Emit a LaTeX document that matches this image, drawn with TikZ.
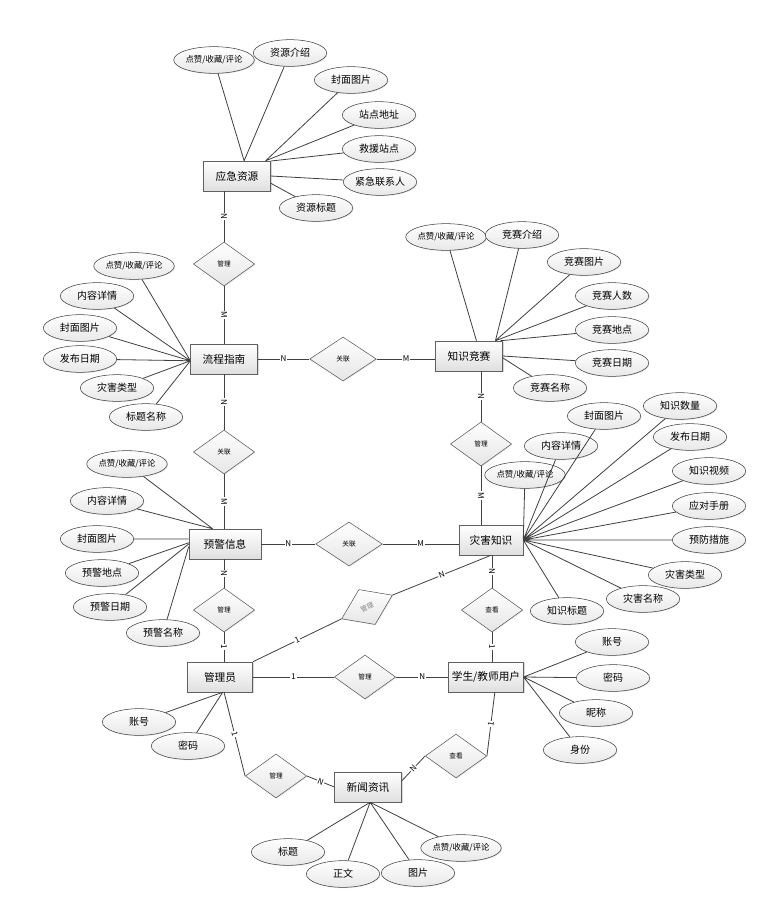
\documentclass[tikz,border=0pt]{standalone}
\usepackage{fontspec}
\newfontfamily\cjk{Noto Sans CJK SC}
\usetikzlibrary{shapes.geometric,shadows}

\tikzset{
  entity/.style={draw=gray!75!black, top color=white, bottom color=gray!25,
    minimum width=50pt, minimum height=22.5pt, inner sep=1pt,
    font=\cjk\fontsize{8}{9}\selectfont,
    drop shadow={shadow xshift=1pt, shadow yshift=-1pt, opacity=0.3}},
  attrib/.style={ellipse, draw=black!75, top color=white, bottom color=gray!18,
    minimum width=55pt, minimum height=20pt, inner sep=0pt,
    font=\cjk\fontsize{7.5}{9}\selectfont,
    drop shadow={shadow xshift=0.6pt, shadow yshift=-0.6pt, opacity=0.2}},
  small/.style={font=\cjk\fontsize{6.3}{7}\selectfont},
  relation/.style={diamond, draw=black!65, top color=white, bottom color=gray!20,
    minimum width=46pt, minimum height=33pt, inner sep=0pt,
    font=\cjk\fontsize{5}{5}\selectfont,
    drop shadow={shadow xshift=0.6pt, shadow yshift=-0.6pt, opacity=0.2}},
  card/.style={fill=white, inner sep=0.6pt, sloped, font=\cjk\fontsize{6}{6}\selectfont},
  link/.style={draw=black!75, line width=0.6pt}
}

\begin{document}
\begin{tikzpicture}[x=0.75pt, y=-0.75pt]
    \path[use as bounding box, fill=white] (0,0) rectangle (763,901);

    % entities
    \node[entity] (yingji) at (237,176) {应急资源};
    \node[entity] (liucheng) at (224,359) {流程指南};
    \node[entity] (jingsai) at (469,356) {知识竞赛};
    \node[entity, minimum width=54pt] (yujing) at (225,544) {预警信息};
    \node[entity, minimum width=48pt] (zaihai) at (491,540) {灾害知识};
    \node[entity, minimum width=49pt] (admin) at (220,677) {管理员};
    \node[entity, minimum width=56pt] (user) at (486,677) {学生/教师用户};
    \node[entity] (news) at (368,787) {新闻资讯};

    % relations
    \node[relation] (r1) at (224,264) {管理};
    \node[relation, minimum width=50pt] (r2) at (343,359) {关联};
    \node[relation] (r3) at (224,452) {关联};
    \node[relation] (r4) at (481,444) {管理};
    \node[relation, minimum width=50pt] (r5) at (349,544) {关联};
    \node[relation] (r6) at (224,610) {管理};
    \node[relation, rotate=25, minimum width=42pt, minimum height=29pt, text=gray] (r7) at (367,607) {管理};
    \node[relation] (r8) at (365,677) {管理};
    \node[relation] (r9) at (492,610) {查看};
    \node[relation] (r10) at (276,776) {管理};
    \node[relation] (r11) at (456,756) {查看};

    % links between entities
    \draw[link] (yingji.south -| r1) -- node[card] {N} (r1.north);
    \draw[link] (r1.south) -- node[card] {M} (liucheng.north);

    \draw[link] (liucheng.east) -- node[card] {N} (r2.west);
    \draw[link] (r2.east) -- node[card] {M} (r2.east -| jingsai.west);

    \draw[link] (liucheng.south) -- node[card] {N} (r3.north);
    \draw[link] (r3.south) -- node[card] {M} (r3.south |- yujing.north);

    \draw[link] (jingsai.south -| r4) -- node[card] {N} (r4.north);
    \draw[link] (r4.south) -- node[card] {M} (r4.south |- zaihai.north);

    \draw[link] (yujing.east) -- node[card] {N} (r5.west);
    \draw[link] (r5.east) -- node[card] {M} (r5.east -| zaihai.west);

    \draw[link] (yujing.south -| r6) -- node[card] {N} (r6.north);
    \draw[link] (r6.south) -- node[card] {1} (r6.south |- admin.north);

    \draw[link] (admin.north east) -- node[card] {1} (r7.west);
    \draw[link] (r7.east) -- node[card] {N} (zaihai.south);

    \draw[link] (admin.east) -- node[card] {1} (r8.west);
    \draw[link] (r8.east) -- node[card] {N} (user.west);

    \draw[link] (zaihai.south -| r9) -- node[card] {N} (r9.north);
    \draw[link] (r9.south) -- node[card] {1} (r9.south |- user.north);

    \draw[link] (admin.-75) -- node[card] {1} (r10.west);
    \draw[link] (r10.east) -- node[card] {N} (news.west);

    \draw[link] (user.-60) -- node[card] {1} (r11.east);
    \draw[link] (r11.west) -- node[card] {N} (news.10);

    % attributes of 应急资源
    \node[attrib, small] (yj1) at (214,60) {点赞/收藏/评论};
    \node[attrib] (yj2) at (290,53) {资源介绍};
    \node[attrib] (yj3) at (351,80) {封面图片};
    \node[attrib] (yj4) at (379,115) {站点地址};
    \node[attrib] (yj5) at (379,149) {救援站点};
    \node[attrib] (yj6) at (380,182) {紧急联系人};
    \node[attrib] (yj7) at (316,208) {资源标题};
    \draw[link] (yj1) -- (yingji.65) (yj2) -- (yingji.65)
                (yj3) -- (yingji.28) (yj4) -- (yingji.28)
                (yj5) -- (yingji.24) (yj6) -- (yingji.east)
                (yj7) -- (yingji.-12);

    % attributes of 流程指南
    \node[attrib, small] (lc1) at (134,266) {点赞/收藏/评论};
    \node[attrib] (lc2) at (97,296) {内容详情};
    \node[attrib] (lc3) at (80,328) {封面图片};
    \node[attrib] (lc4) at (80,359) {发布日期};
    \node[attrib] (lc5) at (117,388) {灾害类型};
    \node[attrib] (lc6) at (146,417) {标题名称};
    \draw[link] (lc1) -- (liucheng.183) (lc2) -- (liucheng.183)
                (lc3) -- (liucheng.183) (lc4) -- (liucheng.183)
                (lc5) -- (liucheng.183) (lc6) -- (liucheng.183);

    % attributes of 知识竞赛
    \node[attrib, small] (js1) at (446,237) {点赞/收藏/评论};
    \node[attrib] (js2) at (522,235) {竞赛介绍};
    \node[attrib] (js3) at (584,262) {竞赛图片};
    \node[attrib] (js4) at (612,296) {竞赛人数};
    \node[attrib] (js5) at (612,330) {竞赛地点};
    \node[attrib] (js6) at (612,363) {竞赛日期};
    \node[attrib] (js7) at (550,388) {竞赛名称};
    \draw[link] (js1) -- (jingsai.64) (js2) -- (jingsai.30)
                (js3) -- (jingsai.30) (js4) -- (jingsai.30)
                (js5) -- (jingsai.26) (js6) -- (jingsai.east)
                (js7) -- (jingsai.-3);

    % attributes of 预警信息
    \node[attrib, small] (yw1) at (127,464) {点赞/收藏/评论};
    \node[attrib] (yw2) at (107,501) {内容详情};
    \node[attrib] (yw3) at (97,539) {封面图片};
    \node[attrib] (yw4) at (102,573) {预警地点};
    \node[attrib] (yw5) at (110,607) {预警日期};
    \node[attrib] (yw6) at (163,633) {预警名称};
    \draw[link] (yw1) -- (yujing.129) (yw2) -- (yujing.129)
                (yw3) -- (yujing.172) (yw4) -- (yujing.178)
                (yw5) -- (yujing.west) (yw6) -- (yujing.184);

    % attributes of 灾害知识
    \node[attrib] (zh1) at (604,416) {封面图片};
    \node[attrib] (zh2) at (680,406) {知识数量};
    \node[attrib] (zh3) at (561,446) {内容详情};
    \node[attrib] (zh4) at (690,437) {发布日期};
    \node[attrib, small] (zh5) at (525,475) {点赞/收藏/评论};
    \node[attrib] (zh6) at (709,471) {知识视频};
    \node[attrib] (zh7) at (709,506) {应对手册};
    \node[attrib] (zh8) at (709,540) {预防措施};
    \node[attrib] (zh9) at (685,575) {灾害类型};
    \node[attrib] (zh10) at (643,599) {灾害名称};
    \node[attrib] (zh11) at (567,611) {知识标题};
    \draw[link] (zh1) -- (zaihai.east) (zh2) -- (zaihai.east)
                (zh3) -- (zaihai.east) (zh4) -- (zaihai.east)
                (zh5) -- (zaihai.east) (zh6) -- (zaihai.east)
                (zh7) -- (zaihai.east) (zh8) -- (zaihai.east)
                (zh9) -- (zaihai.east) (zh10) -- (zaihai.east)
                (zh11) -- (zaihai.east);

    % attributes of 管理员
    \node[attrib] (ad1) at (139,722) {账号};
    \node[attrib] (ad2) at (188,746) {密码};
    \draw[link] (ad1) -- (admin.-80) (ad2) -- (admin.-80);

    % attributes of 学生/教师用户
    \node[attrib] (us1) at (612,642) {账号};
    \node[attrib] (us2) at (613,678) {密码};
    \node[attrib] (us3) at (596,713) {昵称};
    \node[attrib] (us4) at (580,750) {身份};
    \draw[link] (us1) -- (user.east) (us2) -- (user.east)
                (us3) -- (user.east) (us4) -- (user.east);

    % attributes of 新闻资讯
    \node[attrib] (nw1) at (288,852) {标题};
    \node[attrib] (nw2) at (343,874) {正文};
    \node[attrib] (nw3) at (418,873) {图片};
    \node[attrib, small] (nw4) at (461,848) {点赞/收藏/评论};
    \draw[link] (nw1) -- (news.-82) (nw2) -- (news.-82)
                (nw3) -- (news.-82) (nw4) -- (news.-82);
\end{tikzpicture}
\end{document}
